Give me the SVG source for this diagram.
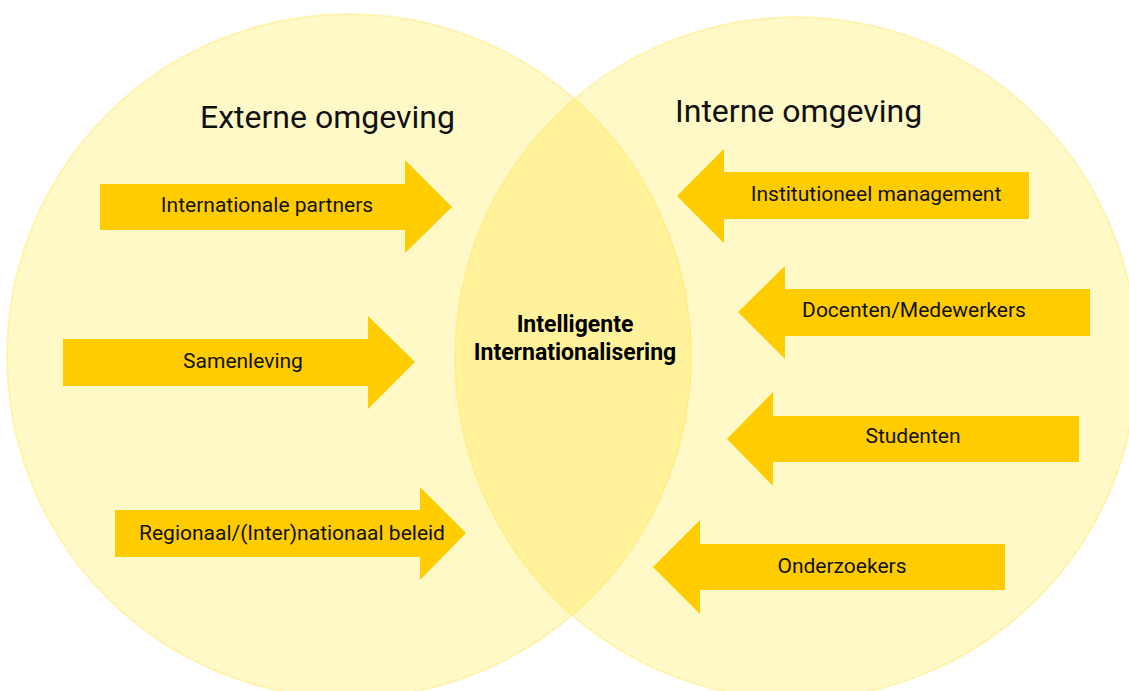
<svg xmlns="http://www.w3.org/2000/svg" width="1129" height="691" viewBox="0 0 1129 691">
<style>
.circle{fill:#FFE000;fill-opacity:0.22;stroke:#FFE45C;stroke-opacity:0.35;stroke-width:2}
.arrow{fill:#FFCC00}
.lbl{font-family:Roboto,"Liberation Sans",sans-serif;font-size:21px;fill:#111;text-anchor:middle}
.title{font-family:Roboto,"Liberation Sans",sans-serif;font-size:32px;fill:#111}
.center{font-family:Roboto,"Liberation Sans",sans-serif;font-size:23px;font-weight:700;fill:#000;text-anchor:middle}
</style>
<rect width="1129" height="691" fill="#fff"/>
<g id="externe-omgeving">
<circle class="circle" cx="349" cy="356" r="342"/>
<text class="title" x="200" y="128">Externe omgeving</text>
</g>
<g id="interne-omgeving">
<circle class="circle" cx="796" cy="358" r="341"/>
<text class="title" x="675" y="122">Interne omgeving</text>
</g>
<g id="intelligente-internationalisering">
<text class="center" x="575" y="332">Intelligente</text>
<text class="center" x="575" y="360">Internationalisering</text>
</g>
<g id="connectors">
<g id="internationale-partners">
<polygon class="arrow" points="100,184 405,184 405,160 452,207 405,253 405,230 100,230"/>
<text class="lbl" x="267" y="212">Internationale partners</text>
</g>
<g id="samenleving">
<polygon class="arrow" points="63,339 368,339 368,316 415,362 368,409 368,386 63,386"/>
<text class="lbl" x="243" y="368">Samenleving</text>
</g>
<g id="beleid">
<polygon class="arrow" points="115,510 420,510 420,487 466,533 420,580 420,557 115,557"/>
<text class="lbl" x="292" y="540">Regionaal/(Inter)nationaal beleid</text>
</g>
<g id="institutioneel-management">
<polygon class="arrow" points="1029,172 724,172 724,149 677,196 724,243 724,219 1029,219"/>
<text class="lbl" x="876" y="201">Institutioneel management</text>
</g>
<g id="docenten-medewerkers">
<polygon class="arrow" points="1090,289 785,289 785,266 738,312 785,359 785,336 1090,336"/>
<text class="lbl" x="914" y="317">Docenten/Medewerkers</text>
</g>
<g id="studenten">
<polygon class="arrow" points="1079,416 773,416 773,392 727,439 773,486 773,462 1079,462"/>
<text class="lbl" x="913" y="443">Studenten</text>
</g>
<g id="onderzoekers">
<polygon class="arrow" points="1005,544 700,544 700,520 653,567 700,614 700,590 1005,590"/>
<text class="lbl" x="842" y="573">Onderzoekers</text>
</g>
</g>
</svg>
